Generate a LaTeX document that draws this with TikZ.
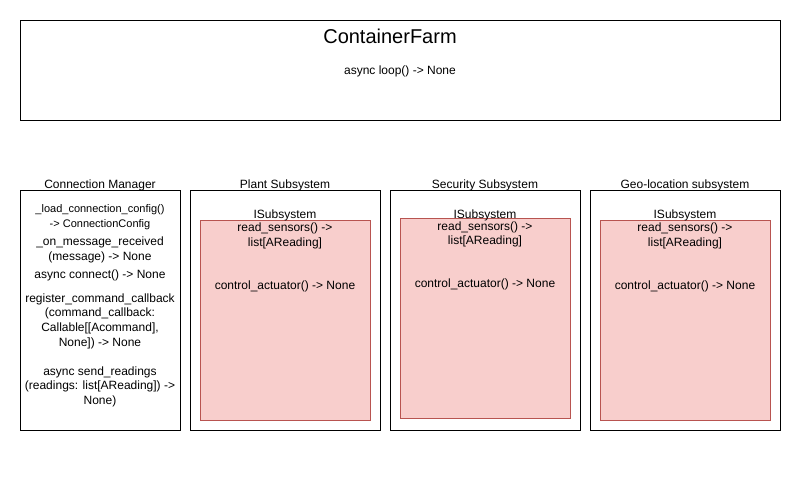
\documentclass[tikz,border=0pt]{standalone}
\usepackage{fontspec}
\setmainfont{Liberation Sans}
\definecolor{pinkfill}{HTML}{F8CECC}
\definecolor{pinkline}{HTML}{B85450}
\begin{document}
\begin{tikzpicture}[x=1pt,y=-1pt,
  box/.style={draw=black,line width=0.8pt},
  ifbox/.style={draw=pinkline,fill=pinkfill,line width=0.8pt},
  txt/.style={inner sep=0pt,font=\fontsize{12}{14.6}\selectfont,align=center}]
\useasboundingbox (0,0) rectangle (807,482);
\fill[white] (0,0) rectangle (807,482);
% top
\draw[box] (20,20) rectangle (780,120);
\node[txt,font=\fontsize{20}{24}\selectfont] (title) at (390,36) {ContainerFarm};
\node[txt] (loop) at (400,71.5) {async loop() -> None};
% connection manager
\draw[box] (20,190) rectangle (180,430);
\node[txt] (cmlbl) at (100,185.5) {Connection Manager};
\node[txt,font=\fontsize{11}{15}\selectfont] (cm1) at (100,217) {\_load\_connection\_config()\\-> ConnectionConfig};
\node[txt] (cm2) at (100,250) {\_on\_message\_received\\(message) -> None};
\node[txt] (cm3) at (100,275) {async connect() -> None};
\node[txt] (cm4) at (100,321) {register\_command\_callback\\(command\_callback:\\Callable[[Acommand],\\None]) -> None};
\node[txt] (cm5) at (100,386.5) {async send\_readings\\(readings: list[AReading]) ->\\None)};
% subsystems
\foreach \n/\xa/\lbl/\dy in {plant/190/Plant Subsystem/0, sec/390/Security Subsystem/-1.5, geo/590/Geo-location subsystem/0}{
  \draw[box] (\xa,190) rectangle ++(190,240);
  \node[txt] (\n lbl) at (\xa+95,185.5) {\lbl};
  \draw[ifbox] (\xa+10,220+\dy) rectangle ++(170,200);
  \node[txt] (\n if) at (\xa+95,215.5) {ISubsystem};
  \node[txt] (\n rs) at (\xa+95,236+\dy) {read\_sensors() ->\\list[AReading]};
  \node[txt] (\n ca) at (\xa+95,286+\dy) {control\_actuator() -> None};
}
\end{tikzpicture}
\end{document}
